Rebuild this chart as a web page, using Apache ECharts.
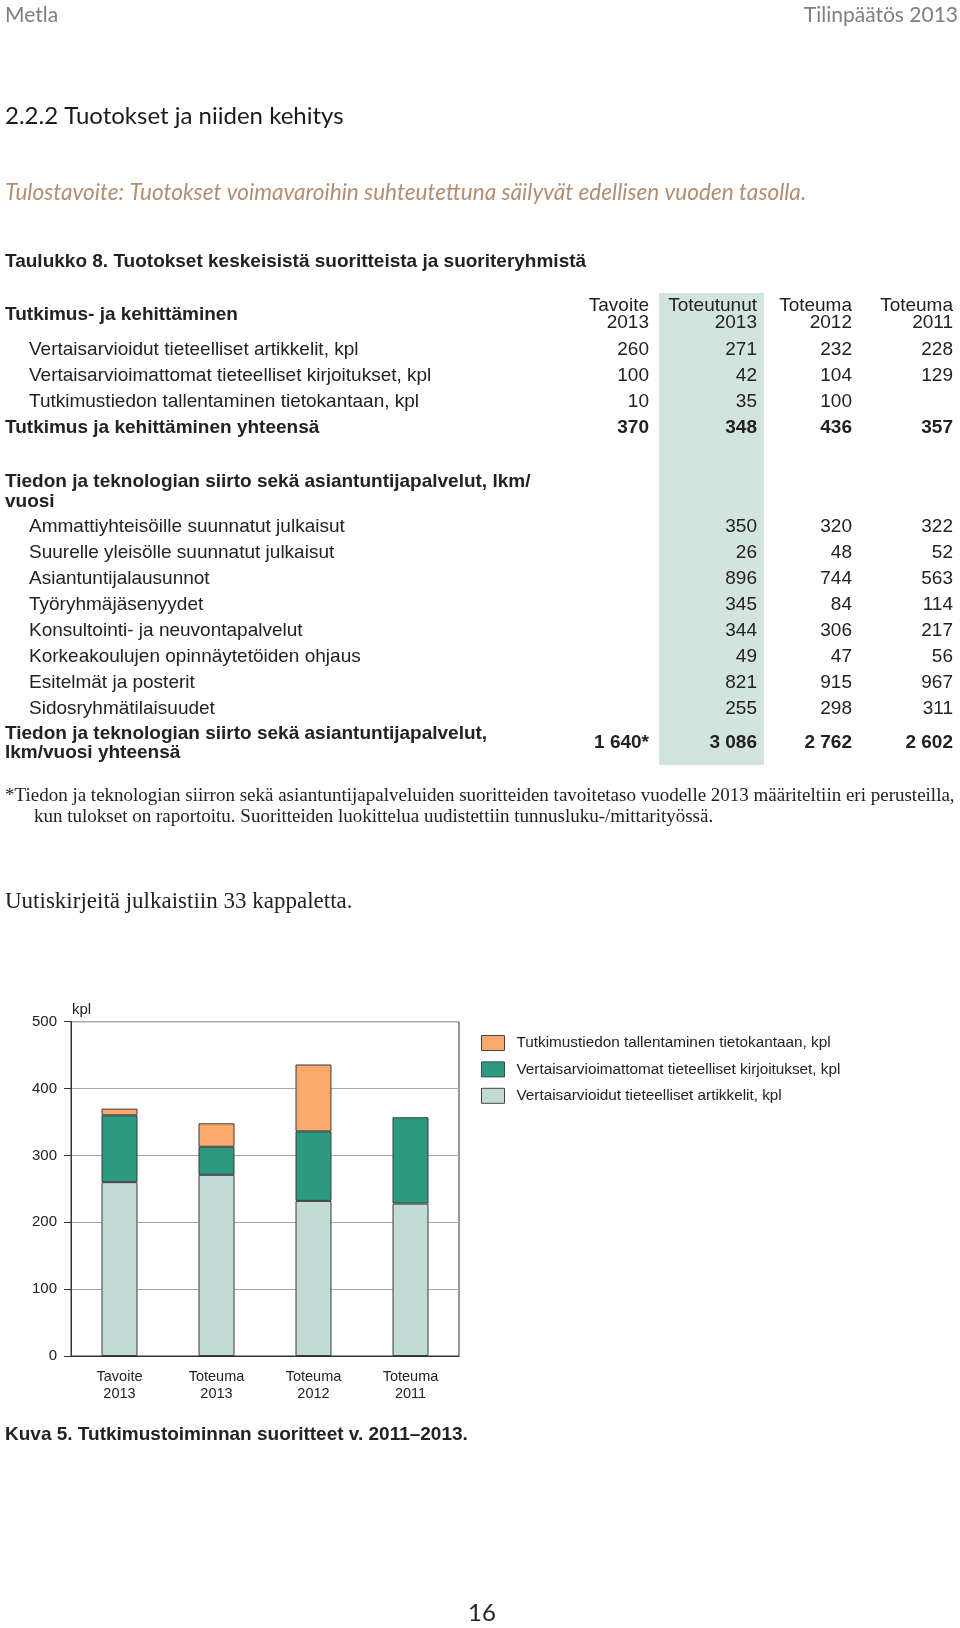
<!DOCTYPE html>
<html>
<head>
<meta charset="utf-8">
<script src="https://cdn.jsdelivr.net/npm/echarts@6/dist/echarts.min.js"></script>
<style>
html,body{margin:0;padding:0;background:#fff;}
#main{width:960px;height:1628px;}
</style>
</head>
<body>
<div id="main"></div>
<script>
// ---------- data ----------
const columnHeads = [['Tavoite', '2013'], ['Toteutunut', '2013'], ['Toteuma', '2012'], ['Toteuma', '2011']];
const chartCategories = ['Tavoite\n2013', 'Toteuma\n2013', 'Toteuma\n2012', 'Toteuma\n2011'];

const section1Title = 'Tutkimus- ja kehittäminen';
const artikkelit = [260, 271, 232, 228];
const kirjoitukset = [100, 42, 104, 129];
const tallentaminen = [10, 35, 100, null];
const section1Labels = [
  'Vertaisarvioidut tieteelliset artikkelit, kpl',
  'Vertaisarvioimattomat tieteelliset kirjoitukset, kpl',
  'Tutkimustiedon tallentaminen tietokantaan, kpl'
];
const section1TotalLabel = 'Tutkimus ja kehittäminen yhteensä';
const section1Totals = [370, 348, 436, 357];

const section2Title = ['Tiedon ja teknologian siirto sekä asiantuntijapalvelut, lkm/', 'vuosi'];
const section2Labels = [
  'Ammattiyhteisöille suunnatut julkaisut',
  'Suurelle yleisölle suunnatut julkaisut',
  'Asiantuntijalausunnot',
  'Työryhmäjäsenyydet',
  'Konsultointi- ja neuvontapalvelut',
  'Korkeakoulujen opinnäytetöiden ohjaus',
  'Esitelmät ja posterit',
  'Sidosryhmätilaisuudet'
];
const ammattijulkaisut = [null, 350, 320, 322];
const yleisojulkaisut = [null, 26, 48, 52];
const lausunnot = [null, 896, 744, 563];
const tyoryhmat = [null, 345, 84, 114];
const konsultointi = [null, 344, 306, 217];
const opinnaytteet = [null, 49, 47, 56];
const esitelmat = [null, 821, 915, 967];
const sidosryhmat = [null, 255, 298, 311];
const section2TotalLabel = ['Tiedon ja teknologian siirto sekä asiantuntijapalvelut,', 'lkm/vuosi yhteensä'];
const section2Totals = [1640, 3086, 2762, 2602];
const section2TotalMarks = ['*', '', '', ''];

const legendNames = [
  'Tutkimustiedon tallentaminen tietokantaan, kpl',
  'Vertaisarvioimattomat tieteelliset kirjoitukset, kpl',
  'Vertaisarvioidut tieteelliset artikkelit, kpl'
];
const yTicks = { min: 0, max: 500, interval: 100 };

// ---------- layout / style ----------
const SANS = "'Liberation Sans', Arial, Helvetica, sans-serif";
const SERIF = "'Liberation Serif', 'Times New Roman', serif";
const HUM = "Lato, 'Open Sans', sans-serif";
const TXT = '#222';
const REG = '19px ' + SANS;
const BOLD = 'bold 19px ' + SANS;
const colRight = [649, 757, 852, 953];
const rowStep = 25.95;

function fmt(v) {
  if (v == null) return '';
  return String(v).replace(/\B(?=(\d{3})+(?!\d))/g, ' ');
}

const g = [];
function text(str, x, y, opt) {
  opt = opt || {};
  g.push({
    type: 'text', x: x, y: y, silent: true, z: 10,
    style: {
      text: str,
      fill: opt.fill || TXT,
      font: opt.font || REG,
      textAlign: opt.align || 'left',
      textVerticalAlign: 'middle'
    }
  });
}

// page header
text('Metla', 5, 15, { font: '21px ' + HUM, fill: '#7e7e7e' });
text('Tilinpäätös 2013', 958, 15, { font: '21px ' + HUM, fill: '#7e7e7e', align: 'right' });
text('2.2.2 Tuotokset ja niiden kehitys', 5, 116, { font: '24px ' + HUM, fill: '#1a1a1a' });
text('Tulostavoite: Tuotokset voimavaroihin suhteutettuna säilyvät edellisen vuoden tasolla.', 5, 193,
  { font: 'italic 22.6px ' + HUM, fill: '#B38E72' });
text('Taulukko 8. Tuotokset keskeisistä suoritteista ja suoriteryhmistä', 5, 261.5, { font: BOLD });

// table highlight band
g.push({ type: 'rect', silent: true, z: 1, shape: { x: 659, y: 293, width: 105, height: 472 }, style: { fill: '#D3E3DE' } });

// table header
text(section1Title, 5, 314.5, { font: BOLD });
columnHeads.forEach((h, i) => {
  text(h[0], colRight[i], 305.5, { align: 'right' });
  text(h[1], colRight[i], 323, { align: 'right' });
});

// section 1
const section1Values = [artikkelit, kirjoitukset, tallentaminen];
section1Labels.forEach((lab, r) => {
  const y = 349.7 + r * rowStep;
  text(lab, 29, y);
  section1Values[r].forEach((v, i) => text(fmt(v), colRight[i], y, { align: 'right' }));
});
const yT1 = 349.7 + 3 * rowStep;
text(section1TotalLabel, 5, yT1, { font: BOLD });
section1Totals.forEach((v, i) => text(fmt(v), colRight[i], yT1, { align: 'right', font: BOLD }));

// section 2
text(section2Title[0], 5, 481.5, { font: BOLD });
text(section2Title[1], 5, 501.3, { font: BOLD });
const section2Values = [ammattijulkaisut, yleisojulkaisut, lausunnot, tyoryhmat, konsultointi, opinnaytteet, esitelmat, sidosryhmat];
section2Labels.forEach((lab, r) => {
  const y = 527.2 + r * rowStep;
  text(lab, 29, y);
  section2Values[r].forEach((v, i) => text(fmt(v), colRight[i], y, { align: 'right' }));
});
text(section2TotalLabel[0], 5, 733.7, { font: BOLD });
text(section2TotalLabel[1], 5, 752.4, { font: BOLD });
section2Totals.forEach((v, i) => text(fmt(v) + section2TotalMarks[i], colRight[i], 743, { align: 'right', font: BOLD }));

// footnote
text('*Tiedon ja teknologian siirron sekä asiantuntijapalveluiden suoritteiden tavoitetaso vuodelle 2013 määriteltiin eri perusteilla,', 5, 796,
  { font: '19px ' + SERIF });
text('kun tulokset on raportoitu. Suoritteiden luokittelua uudistettiin tunnusluku-/mittarityössä.', 34, 816.7, { font: '19px ' + SERIF });
text('Uutiskirjeitä julkaistiin 33 kappaletta.', 5, 902, { font: '23px ' + SERIF });

// chart annotations
text('kpl', 72, 1010, { font: '15px ' + SANS });
text('Kuva 5. Tutkimustoiminnan suoritteet v. 2011–2013.', 5, 1435, { font: BOLD });
text('16', 482, 1613, { font: '24px ' + HUM, fill: '#222', align: 'center' });

const barBorder = { borderColor: '#3a3a3a', borderWidth: 1 };

const option = {
  backgroundColor: '#fff',
  animation: false,
  grid: {
    left: 71, right: 501, top: 1021.7, bottom: 272,
    show: true, borderColor: '#333', borderWidth: 1, backgroundColor: 'transparent'
  },
  legend: {
    data: legendNames,
    orient: 'vertical',
    left: 476, top: 1030,
    itemWidth: 23, itemHeight: 15, itemGap: 10.4,
    icon: 'rect',
    selectedMode: false,
    itemStyle: { borderColor: '#444', borderWidth: 1 },
    textStyle: { fontFamily: SANS, fontSize: 15.3, color: TXT, padding: [0, 0, 0, 7] }
  },
  xAxis: {
    type: 'category',
    data: chartCategories,
    axisLine: { lineStyle: { color: '#333', width: 1 } },
    axisTick: { show: false },
    axisLabel: { fontFamily: SANS, fontSize: 14.5, color: TXT, lineHeight: 17, margin: 12 }
  },
  yAxis: {
    type: 'value',
    min: yTicks.min, max: yTicks.max, interval: yTicks.interval,
    axisLine: { show: true, lineStyle: { color: '#333', width: 1 } },
    axisTick: { show: true, length: 7, lineStyle: { color: '#333' } },
    axisLabel: { fontFamily: SANS, fontSize: 15, color: TXT, margin: 14 },
    splitLine: { lineStyle: { color: '#a8a8a8', width: 1 } }
  },
  series: [
    { name: legendNames[2], type: 'bar', stack: 't', barWidth: 36, data: artikkelit,
      itemStyle: Object.assign({ color: '#C2DCD5' }, barBorder) },
    { name: legendNames[1], type: 'bar', stack: 't', barWidth: 36, data: kirjoitukset,
      itemStyle: Object.assign({ color: '#2B9A80' }, barBorder) },
    { name: legendNames[0], type: 'bar', stack: 't', barWidth: 36, data: tallentaminen,
      itemStyle: Object.assign({ color: '#F9A96E' }, barBorder) }
  ],
  graphic: { elements: g }
};

const chart = echarts.init(document.getElementById('main'), null, { renderer: 'canvas', width: 960, height: 1628 });
chart.setOption(option);
</script>
</body>
</html>
